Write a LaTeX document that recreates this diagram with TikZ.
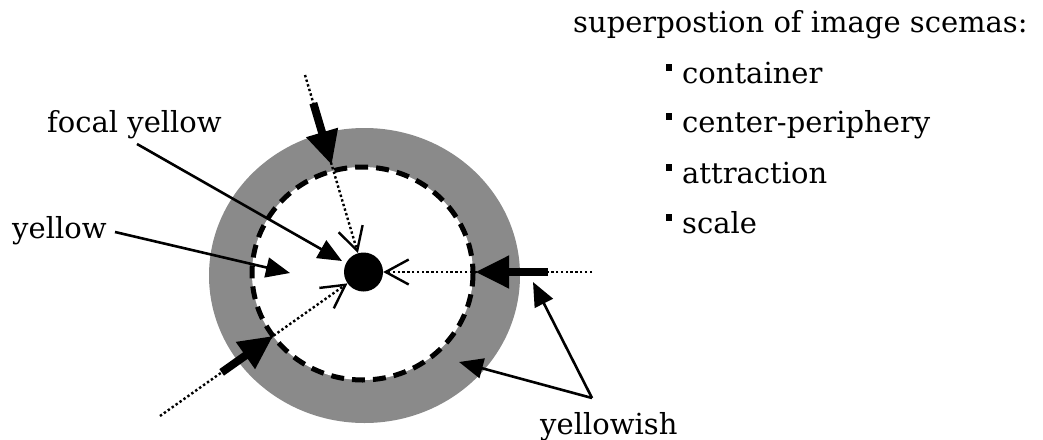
\documentclass[tikz,border=0pt]{standalone}
\usepackage{fontspec}
\setmainfont{DejaVu Serif}
\usetikzlibrary{arrows.meta,calc}
\definecolor{ringgray}{gray}{0.54}
\begin{document}
\begin{tikzpicture}[x=1pt,y=-1pt,
  lbl/.style={font=\fontsize{29}{34}\selectfont, anchor=base west, inner sep=0pt},
  bul/.style={rectangle, fill=black, minimum width=6pt, minimum height=7pt, inner sep=0pt},
  lblline/.style={line width=2.6pt, -{Triangle[length=24pt,width=20pt]}},
  dotline/.style={line width=2.4pt, dash pattern=on 2.4pt off 2.4pt, -{Straight Barb[length=23pt,width=25pt,line width=2.4pt]}},
  push/.style={line width=8pt, -{Triangle[length=34pt,width=31pt]}}]
\useasboundingbox (0,0) rectangle (1043,439);
% ring
\fill[ringgray] (364.5,275.5) ellipse [x radius=155.5, y radius=147.5];
\fill[white] (362.5,273.5) ellipse [x radius=110.5, y radius=106.5];
\draw[line width=5pt, dash pattern=on 13pt off 8pt] (362.5,273.5) ellipse [x radius=110.5, y radius=106.5];
% focal dot
\node[circle, fill=black, minimum size=39pt, inner sep=0pt] (dot) at (363.5,272) {};
\coordinate (C) at (363.5,272);
% attraction lines
\coordinate (o1) at (305,75);
\coordinate (o2) at (592,272);
\coordinate (o3) at (160,416);
\draw[dotline] (o1) -- (dot);
\draw[dotline] (o2) -- (dot);
\draw[dotline] (o3) -- (dot);
\draw[push] ($(C)!0.857!(o1)$) -- ($(C)!0.543!(o1)$);
\draw[push] ($(C)!0.808!(o2)$) -- ($(C)!0.489!(o2)$);
\draw[push] ($(C)!0.697!(o3)$) -- ($(C)!0.444!(o3)$);
% labels
\node[lbl] (tfocal) at (47,132) {focal yellow};
\coordinate (sfocal) at (137,144);
\coordinate (efocal) at (342,261);
\draw[lblline] (sfocal) -- (efocal);
\node[lbl] (tyellow) at (12,238) {yellow};
\coordinate (syellow) at (115,232);
\coordinate (eyellow) at (290,273);
\draw[lblline] (syellow) -- (eyellow);
\node[lbl] (tyish) at (540,434) {yellowish};
\coordinate (jyish) at (592,398);
\coordinate (eyish1) at (533,282);
\coordinate (eyish2) at (459,362);
\draw[lblline] (jyish) -- (eyish1);
\draw[lblline] (jyish) -- (eyish2);
% list
\node[lbl] (title) at (573,32) {superpostion of image scemas:};
\node[bul] (bu1) at (669,67) {};
\node[lbl] (li1) at (682,83) {container};
\node[bul] (bu2) at (669,116) {};
\node[lbl] (li2) at (682,132) {center-periphery};
\node[bul] (bu3) at (669,167) {};
\node[lbl] (li3) at (682,183) {attraction};
\node[bul] (bu4) at (669,217) {};
\node[lbl] (li4) at (682,233) {scale};
\end{tikzpicture}
\end{document}
